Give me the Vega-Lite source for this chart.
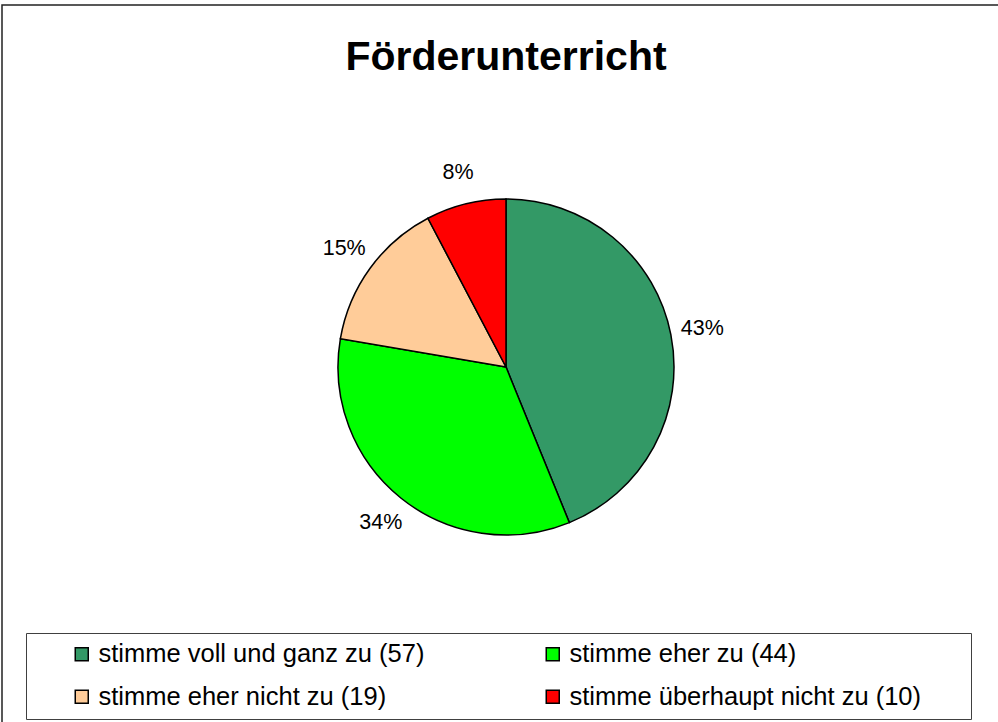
{
  "$schema": "https://vega.github.io/schema/vega-lite/v6.json",
  "width": 1008,
  "height": 724,
  "autosize": {"type": "none"},
  "padding": {"left": 2, "top": 5, "right": 0, "bottom": 0},
  "background": "white",
  "config": {
    "view": {"stroke": null},
    "font": "Liberation Sans"
  },
  "title": {
    "text": "Förderunterricht",
    "font": "Liberation Sans",
    "fontSize": 41,
    "fontWeight": "bold",
    "color": "black",
    "anchor": "middle",
    "frame": "group",
    "baseline": "alphabetic",
    "offset": -107
  },
  "datasets": {
    "answers": [
      {"cat": "stimme voll und ganz zu (57)", "n": 57, "pct": "43%", "o": 1},
      {"cat": "stimme eher zu (44)", "n": 44, "pct": "34%", "o": 2},
      {"cat": "stimme eher nicht zu (19)", "n": 19, "pct": "15%", "o": 3},
      {"cat": "stimme überhaupt nicht zu (10)", "n": 10, "pct": "8%", "o": 4}
    ],
    "frame": [{"frame": 1}]
  },
  "layer": [
    {
      "data": {"name": "frame"},
      "mark": {"type": "rect", "fillOpacity": 0, "stroke": "#222222", "strokeWidth": 1.5},
      "encoding": {}
    },
    {
      "data": {"name": "answers"},
      "mark": {"type": "arc", "outerRadius": 168, "stroke": "black", "strokeWidth": 1.5},
      "encoding": {
        "theta": {"field": "n", "type": "quantitative", "stack": true},
        "order": {"field": "o", "type": "quantitative"},
        "color": {
          "field": "cat",
          "type": "nominal",
          "scale": {
            "domain": ["stimme voll und ganz zu (57)", "stimme eher zu (44)", "stimme eher nicht zu (19)", "stimme überhaupt nicht zu (10)"],
            "range": ["#339966", "#00FF00", "#FFCC99", "#FF0000"]
          },
          "legend": {
            "orient": "none",
            "direction": "horizontal",
            "legendX": 24,
            "legendY": 628,
            "columns": 2,
            "title": " ",
            "titleOrient": "right",
            "titlePadding": 42,
            "strokeColor": "#404040",
            "padding": 8,
            "symbolType": "square",
            "symbolSize": 169,
            "symbolStrokeColor": "black",
            "symbolStrokeWidth": 1.5,
            "symbolOpacity": 1,
            "symbolOffset": 35,
            "labelOffset": 4,
            "labelFontSize": 25.5,
            "labelFont": "Liberation Sans",
            "labelColor": "black",
            "labelLimit": 600,
            "columnPadding": 80,
            "rowPadding": 16
          }
        }
      }
    },
    {
      "data": {"name": "answers"},
      "mark": {"type": "text", "radius": 200, "fontSize": 21.5, "font": "Liberation Sans", "color": "black"},
      "encoding": {
        "theta": {"field": "n", "type": "quantitative", "stack": true},
        "order": {"field": "o", "type": "quantitative"},
        "detail": {"field": "cat", "type": "nominal"},
        "text": {"field": "pct", "type": "nominal"}
      }
    }
  ]
}
